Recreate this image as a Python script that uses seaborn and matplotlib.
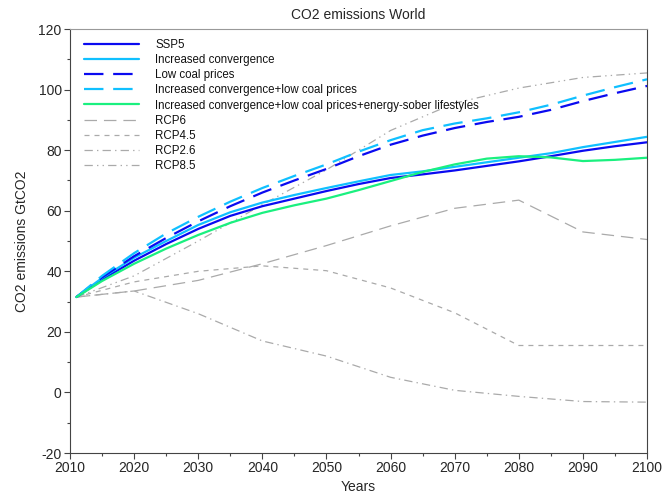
import seaborn as sns
import pandas as pd
import matplotlib.pyplot as plt

# Scenario runs (5-year steps)
years = [2011, 2015, 2020, 2025, 2030, 2035, 2040, 2045, 2050, 2055,
         2060, 2065, 2070, 2075, 2080, 2085, 2090, 2095, 2100]
ssp5 = [31.5, 37.3, 43.5, 49.0, 54.0, 58.3, 61.5, 64.0, 66.5, 68.8,
        70.8, 72.0, 73.3, 74.8, 76.3, 78.0, 79.8, 81.3, 82.6]
inc_conv = [31.5, 37.8, 44.5, 50.0, 55.3, 59.5, 62.7, 65.2, 67.5, 69.7,
            71.8, 73.0, 74.5, 76.0, 77.5, 79.0, 81.0, 82.7, 84.4]
low_coal = [31.5, 38.0, 45.0, 51.0, 56.5, 61.5, 66.0, 70.0, 73.8, 78.0,
            81.8, 84.8, 87.3, 89.3, 91.0, 93.3, 96.2, 98.8, 101.2]
inc_conv_low_coal = [31.5, 38.5, 46.0, 52.5, 58.0, 63.0, 67.5, 71.5, 75.3, 79.5,
                     83.3, 86.6, 88.8, 90.5, 92.5, 95.0, 98.0, 100.8, 103.4]
sober = [31.5, 36.8, 42.5, 47.5, 52.0, 56.0, 59.3, 61.8, 64.0, 66.8,
         69.8, 72.8, 75.3, 77.2, 78.0, 77.6, 76.4, 76.8, 77.5]

# RCP pathways (decadal)
rcp_years = [2011, 2020, 2030, 2040, 2050, 2060, 2070, 2080, 2090, 2100]
rcp6 = [31.5, 33.5, 37.0, 42.5, 48.5, 55.0, 60.8, 63.5, 53.0, 50.5]
rcp45 = [31.5, 36.5, 40.0, 41.8, 40.2, 34.5, 26.3, 15.5, 15.5, 15.5]
rcp26 = [31.5, 33.5, 26.0, 17.0, 12.0, 5.0, 0.7, -1.3, -3.0, -3.2]
rcp85 = [31.5, 38.5, 50.0, 62.0, 73.5, 86.5, 95.5, 100.5, 104.0, 105.5]

series = [
    ('SSP5', years, ssp5, '#0a0af0', 1.6, '-'),
    ('Increased convergence', years, inc_conv, '#10c0ff', 1.6, '-'),
    ('Low coal prices', years, low_coal, '#0a0af0', 1.6, (0, (14, 7))),
    ('Increased convergence+low coal prices', years, inc_conv_low_coal, '#10c0ff', 1.6, (0, (14, 7))),
    ('Increased convergence+low coal prices+energy-sober lifestyles', years, sober, '#1af07f', 1.6, '-'),
    ('RCP6', rcp_years, rcp6, '#aaaaaa', 0.9, (0, (9, 5))),
    ('RCP4.5', rcp_years, rcp45, '#aaaaaa', 0.9, (0, (3.6, 3.6))),
    ('RCP2.6', rcp_years, rcp26, '#aaaaaa', 0.9, (0, (6, 3, 1, 3))),
    ('RCP8.5', rcp_years, rcp85, '#aaaaaa', 0.9, (0, (6, 3, 1, 3, 1, 3))),
]

sns.set_style('ticks')
plt.rcParams['font.family'] = ['Liberation Sans', 'DejaVu Sans']
plt.rcParams['lines.scale_dashes'] = False
plt.rcParams['axes.unicode_minus'] = False

fig = plt.figure(figsize=(6.65, 4.95), dpi=100, facecolor='white')
ax = fig.add_axes([0.1053, 0.0848, 0.8677, 0.8566])

for i, (name, xs, ys, col, lw, ls) in enumerate(series):
    df = pd.DataFrame({'Year': xs, 'Emissions': ys})
    z = 3 if i < 5 else 2
    sns.lineplot(data=df, x='Year', y='Emissions', color=col, linewidth=lw,
                 linestyle=ls, label=name, ax=ax, zorder=z, estimator=None)

ax.set_xlim(2010, 2100)
ax.set_ylim(-20, 120)
ax.set_xticks(range(2010, 2101, 10))
ax.set_xticks(range(2015, 2100, 10), minor=True)
ax.set_yticks(range(-20, 121, 20))
ax.set_yticks(range(-10, 120, 20), minor=True)
ax.tick_params(which='major', direction='out', length=4, width=0.8,
               color='#444444', labelsize=10, pad=2)
ax.tick_params(which='minor', direction='out', length=2.5, width=0.8, color='#444444')

for s in ['left', 'bottom', 'right']:
    ax.spines[s].set_color('#444444')
    ax.spines[s].set_linewidth(0.8)
ax.spines['top'].set_color('#999999')
ax.spines['top'].set_linewidth(0.8)

ax.set_title('CO2 emissions World', fontsize=10, pad=7)
ax.set_xlabel('Years', fontsize=10, labelpad=3)
ax.set_ylabel('CO2 emissions GtCO2', fontsize=10, labelpad=7)

leg = ax.legend(loc='upper left', bbox_to_anchor=(0.004, 1.0035), frameon=False,
                fontsize=8.3, handlelength=4.8, handletextpad=1.4,
                labelspacing=0.27, borderaxespad=0.6)
for t in leg.get_texts():
    t.set_color('#111111')

fig.savefig('out.png', dpi=100, facecolor='white')
